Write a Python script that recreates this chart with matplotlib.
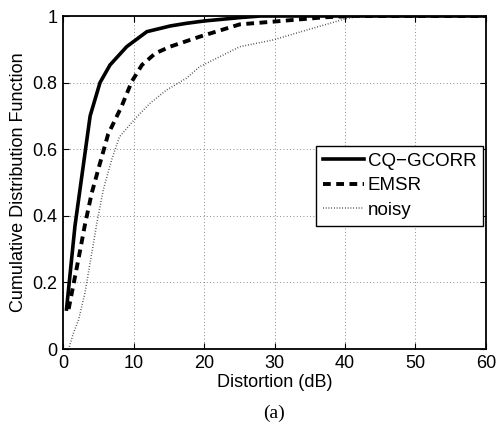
import matplotlib
matplotlib.use("Agg")
import matplotlib.pyplot as plt

plt.rcParams['font.family'] = ['Liberation Sans', 'DejaVu Sans']

cq_x = [0.5, 1.7, 3.85, 5.25, 6.67, 9.04, 11.9, 15.2, 17.5, 20.0, 25.0, 28.0, 60.0]
cq_y = [0.12, 0.37, 0.70, 0.80, 0.853, 0.908, 0.953, 0.970, 0.978, 0.985, 0.995, 1.0, 1.0]

emsr_x = [0.8, 1.47, 2.3, 3.1, 4.07, 5.25, 6.4, 8.3, 9.75, 11.2, 13.1, 15.2, 17.3, 19.4, 25.1, 29.8, 37.0, 41.0, 60.0]
emsr_y = [0.12, 0.192, 0.282, 0.372, 0.468, 0.558, 0.645, 0.728, 0.803, 0.853, 0.888, 0.908, 0.923, 0.938, 0.975, 0.983, 0.996, 1.0, 1.0]

noisy_x = [0.9, 1.47, 2.2, 3.1, 3.83, 4.78, 5.7, 6.9, 8.0, 10.5, 12.35, 14.7, 17.5, 19.4, 25.1, 29.8, 34.6, 40.3, 42.6, 60.0]
noisy_y = [0.007, 0.047, 0.087, 0.167, 0.257, 0.375, 0.477, 0.568, 0.637, 0.698, 0.738, 0.778, 0.813, 0.848, 0.908, 0.928, 0.958, 0.993, 1.0, 1.0]

xticks = [0, 10, 20, 30, 40, 50, 60]
yticks = [0, 0.2, 0.4, 0.6, 0.8, 1]
yticklabels = ['0', '0.2', '0.4', '0.6', '0.8', '1']

fig = plt.figure(figsize=(4.96, 4.23), dpi=100)
ax = fig.add_axes([63/496, 1 - 349/423, (486 - 63)/496, (349 - 16)/423])

ax.plot(cq_x, cq_y, color='black', lw=2.6, ls='-', label='CQ\u2212GCORR')
ax.plot(emsr_x, emsr_y, color='black', lw=2.8, ls=(0, (2.0, 1.4)), label='EMSR')
ax.plot(noisy_x, noisy_y, color='#333333', lw=1.1, ls=(0, (0.5, 1.3)), label='noisy')

ax.set_xlim(0, 60)
ax.set_ylim(0, 1)
ax.set_xticks(xticks)
ax.set_yticks(yticks)
ax.set_yticklabels(yticklabels)
ax.tick_params(direction='in', labelsize=13, length=4, width=0.8, top=True, right=True, pad=4)
ax.grid(True, ls=(0, (1, 3)), color='black', lw=0.6, alpha=0.6)
for s in ax.spines.values():
    s.set_linewidth(1.3)

ax.set_xlabel('Distortion (dB)', fontsize=13, labelpad=2)
ax.set_ylabel('Cumulative Distribution Function', fontsize=13, labelpad=4)

leg = ax.legend(loc='upper left', bbox_to_anchor=((316 - 63)/423, 1 - (146 - 16)/333),
                fontsize=13.5, frameon=True, fancybox=False, edgecolor='black',
                handlelength=2.2, handletextpad=0.2, borderpad=0.35, labelspacing=0.4,
                borderaxespad=0, framealpha=1)
leg.get_frame().set_linewidth(1.0)

fig.text(0.5*(63+486)/496, 1 - 413/423, '(a)', ha='center', va='center',
         fontsize=14, family=['Liberation Serif', 'DejaVu Serif'])

fig.savefig('out.png', dpi=100)
